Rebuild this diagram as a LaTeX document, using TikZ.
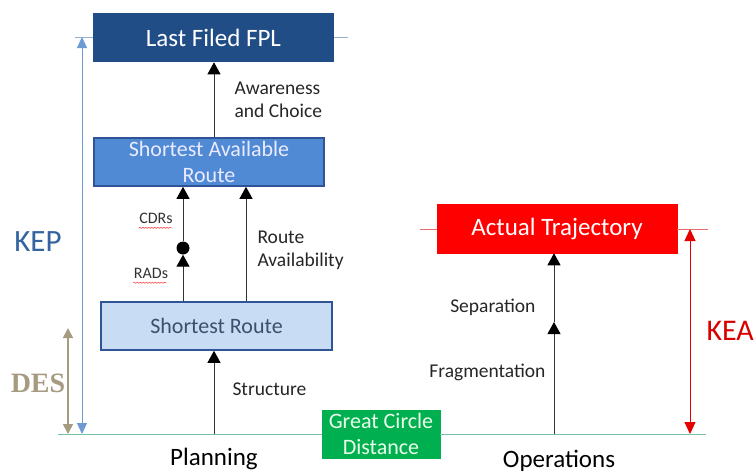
\documentclass[tikz,border=0pt]{standalone}
\usepackage{fontspec}
\setmainfont{Carlito}
\newfontfamily\desfont{Liberation Serif}
\usetikzlibrary{arrows.meta,decorations.pathmorphing}
\definecolor{fplblue}{RGB}{33,77,135}
\definecolor{sarblue}{RGB}{80,137,212}
\definecolor{sarborder}{RGB}{47,85,151}
\definecolor{srfill}{RGB}{200,220,243}
\definecolor{srtext}{RGB}{60,80,110}
\definecolor{gcgreen}{RGB}{0,176,80}
\definecolor{kepblue}{RGB}{110,155,212}
\definecolor{keptext}{RGB}{52,100,160}
\definecolor{baseg}{RGB}{120,195,165}
\definecolor{descol}{RGB}{166,155,128}
\definecolor{topline}{RGB}{150,175,205}
\definecolor{redline}{RGB}{230,110,110}
\tikzset{
  boxnode/.style={draw, line width=1.6pt, minimum height=48pt, inner sep=2pt, align=center, font=\fontsize{22}{26}\selectfont},
  flowarrow/.style={draw=black!80, line width=1pt, -{Triangle[width=13pt,length=12pt,fill=black,color=black]}},
  lbl/.style={font=\fontsize{19.5}{23}\selectfont, align=left, anchor=west, text=black!85},
  smalllbl/.style={font=\fontsize{16}{18}\selectfont, text=black!80},
  squig/.style={draw=red!80, line width=0.5pt, decorate, decoration={snake, amplitude=0.6pt, segment length=3pt}}
}
\begin{document}
\begin{tikzpicture}[x=1pt,y=-1pt]
\useasboundingbox (0,0) rectangle (755,474);
% boxes
\node[boxnode, draw=fplblue, fill=fplblue, text=white, minimum width=239pt, font=\fontsize{25}{26}\selectfont] (fpl) at (213.5,37.5) {Last Filed FPL};
\node[boxnode, draw=sarborder, fill=sarblue, text=white!92!blue, minimum width=230pt] (sar) at (209,162) {Shortest Available\\Route};
\node[boxnode, draw=sarborder, fill=srfill, text=srtext, minimum width=231pt] (sr) at (216.5,326) {Shortest Route};
\node[boxnode, draw=gcgreen, fill=gcgreen, text=white!92!green, minimum width=118pt, line width=0.5pt] (gcd) at (381,434) {Great Circle\\Distance};
\node[boxnode, draw=red, fill=red, text=white, minimum width=240pt, minimum height=49pt, line width=0.5pt, font=\fontsize{25}{26}\selectfont] (at) at (557,228.5) {Actual Trajectory};
% baseline
\coordinate (bl) at (58,434);
\coordinate (br) at (706,434);
\draw[baseg, line width=1pt] (bl) -- (gcd.west);
\draw[baseg, line width=1pt] (gcd.east) -- (br);
% top reference lines
\coordinate (tl1) at (75,37);
\coordinate (tr1) at (348,37);
\draw[topline, line width=1pt] (tl1) -- (fpl.west |- tl1);
\draw[topline, line width=1pt] (fpl.east |- tr1) -- (tr1);
\coordinate (tl2) at (420,229);
\coordinate (tr2) at (708,229);
\draw[redline, line width=1pt] (tl2) -- (at.west |- tl2);
\draw[redline, line width=1pt] (at.east |- tr2) -- (tr2);
% KEP
\coordinate (kept) at (82,37);
\coordinate (kepb) at (82,434);
\draw[kepblue, line width=1pt, {Triangle[width=10pt,length=11pt]}-{Triangle[width=10pt,length=11pt]}] (kept) -- (kepb);
\node[text=keptext, font=\fontsize{31}{31}\selectfont] (kep) at (38,242) {KEP};
% DES
\coordinate (dest) at (68,328);
\coordinate (desb) at (68,434);
\draw[descol, line width=1.6pt, {Triangle[width=10pt,length=10pt]}-{Triangle[width=10pt,length=10pt]}] (dest) -- (desb);
\node[text=descol, font=\desfont\bfseries\fontsize{28}{28}\selectfont] (des) at (38,383) {DES};
% KEA
\coordinate (keat) at (690,229);
\coordinate (keab) at (690,434);
\draw[red!90!black, line width=1pt, {Triangle[width=11pt,length=12pt]}-{Triangle[width=11pt,length=12pt]}] (keat) -- (keab);
\node[text=red!85!black, font=\fontsize{30}{30}\selectfont, anchor=east, inner sep=0pt] (kea) at (754,331) {KEA};
% flow arrows
\draw[flowarrow] (sar.north -| 214,0) -- (fpl.south -| 214,0);
\node[lbl] (aw) at (231,100) {Awareness\\and Choice};
\coordinate (cdrx) at (183,0);
\node[circle, fill=black, inner sep=0pt, minimum size=13pt] (dot) at (183,248) {};
\draw[flowarrow] (sr.north -| cdrx) -- (dot.south);
\draw[flowarrow] (dot.north) -- (sar.south -| cdrx);
\node[smalllbl] (cdrs) at (156,218) {CDRs};
\node[smalllbl] (rads) at (151,273) {RADs};
\draw[squig] ([yshift=-1pt]cdrs.south west) ++(3,0) -- ++(33,0);
\draw[squig] ([yshift=-1pt]rads.south west) ++(3,0) -- ++(33,0);
\coordinate (rax) at (246,0);
\draw[flowarrow] (sr.north -| rax) -- (sar.south -| rax);
\node[lbl] (ra) at (254,250) {Route\\Availability};
\coordinate (stx) at (214,434);
\draw[flowarrow] (stx) -- (sr.south -| stx);
\node[lbl] (st) at (229,389) {Structure};
% operations
\coordinate (opb) at (554,434);
\coordinate (opm) at (554,322);
\draw[flowarrow] (opb) -- (opm);
\draw[flowarrow] (opm) -- (at.south -| opm);
\node[lbl, anchor=east] (sep) at (539,307) {Separation};
\node[lbl, anchor=east] (frag) at (549,372) {Fragmentation};
% bottom labels
\node[font=\fontsize{25}{25}\selectfont] (plan) at (214,459) {Planning};
\node[font=\fontsize{25}{25}\selectfont] (ops) at (559,461) {Operations};
\end{tikzpicture}
\end{document}
